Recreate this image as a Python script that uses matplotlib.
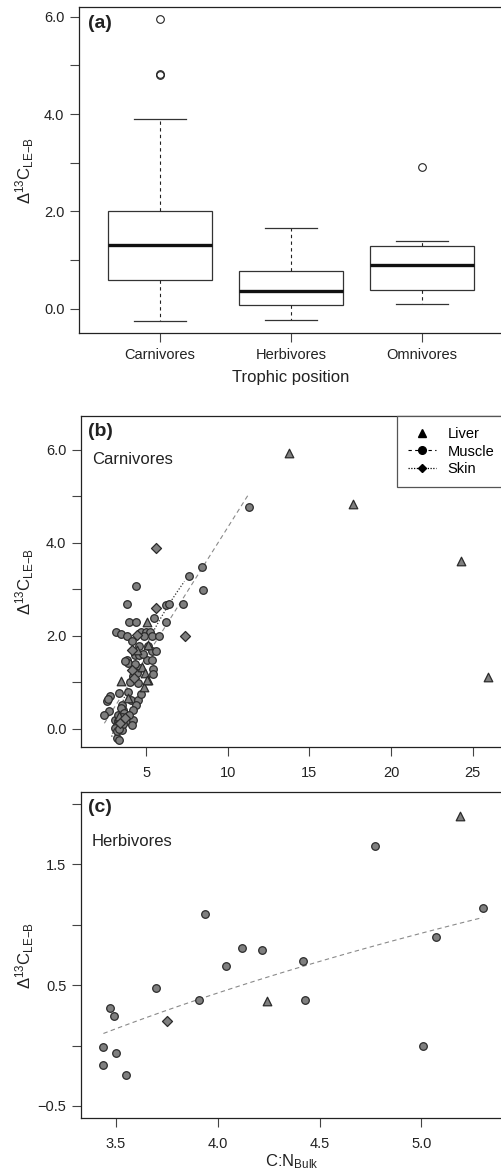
import numpy as np
import matplotlib
matplotlib.use('Agg')
import matplotlib.pyplot as plt
from matplotlib.lines import Line2D

plt.rcParams['font.family'] = ['Liberation Sans', 'DejaVu Sans']
plt.rcParams['mathtext.fontset'] = 'custom'
plt.rcParams['mathtext.rm'] = 'Liberation Sans'
plt.rcParams['mathtext.it'] = 'Liberation Sans:italic'

# (a) box plot summaries
groups = ['Carnivores', 'Herbivores', 'Omnivores']
box_q1 = [0.58, 0.08, 0.39]
box_med = [1.30, 0.37, 0.89]
box_q3 = [2.00, 0.78, 1.28]
whisk_lo = [-0.25, -0.24, 0.09]
whisk_hi = [3.90, 1.65, 1.40]
outliers = [[5.96, 4.80, 4.83], [], [2.91]]

# (b) carnivores, C:N bulk vs delta 13C
carn_liver_x = [13.73, 17.64, 24.27, 25.94, 5.06, 5.10, 4.47, 4.73, 4.96, 5.14, 4.88, 3.47, 3.92, 3.37, 5.04]
carn_liver_y = [5.94, 4.84, 3.61, 1.11, 2.30, 1.81, 1.70, 1.33, 1.20, 1.05, 0.91, 1.02, 0.66, 0.28, 1.05]
carn_skin_x = [5.61, 5.63, 7.41, 4.43, 4.16, 4.12, 4.29, 3.41, 3.72]
carn_skin_y = [3.90, 2.60, 2.00, 2.02, 1.70, 1.27, 1.09, 0.12, 0.23]
carn_muscle_x = [11.32, 4.39, 7.61, 8.40, 8.51, 3.82, 6.22, 6.43, 7.28, 5.49, 6.20, 3.98, 4.39,
                 3.14, 3.49, 3.82, 4.16, 4.67, 5.00, 5.24, 4.88, 5.35, 5.82, 4.59, 5.14, 5.35,
                 5.61, 3.82, 3.92, 4.33, 4.59, 5.04, 5.35, 4.63, 5.41, 5.41, 4.18, 4.53, 3.92,
                 3.35, 4.06, 4.53, 2.80, 2.63, 2.72, 2.43, 3.51, 3.57, 4.39, 4.22, 3.10, 3.31,
                 3.78, 4.22, 4.12, 3.21, 3.41, 3.10, 3.51, 3.21, 3.37, 3.30, 3.45, 3.60, 3.25,
                 3.65, 4.00, 4.30, 3.70, 4.80, 4.45, 3.95, 4.70, 2.65, 3.35, 3.50]
carn_muscle_y = [4.78, 3.08, 3.28, 3.48, 2.98, 2.69, 2.66, 2.69, 2.69, 2.39, 2.29, 2.29, 2.29,
                 2.09, 2.03, 2.00, 1.90, 2.09, 2.09, 2.09, 1.99, 1.99, 1.99, 1.78, 1.78, 1.68,
                 1.68, 1.48, 1.41, 1.59, 1.59, 1.48, 1.48, 1.30, 1.28, 1.18, 1.13, 0.98, 0.80,
                 0.78, 0.62, 0.62, 0.70, 0.59, 0.39, 0.29, 0.52, 0.41, 0.52, 0.41, 0.19, 0.16,
                 0.16, 0.19, 0.09, 0.09, 0.05, 0.01, -0.02, -0.20, -0.24, 0.30, 0.45, 0.10, -0.05,
                 0.35, 1.00, 1.40, 1.45, 1.60, 1.20, 0.30, 0.75, 0.65, 0.00, 0.25]
# fitted lines as drawn (muscle linear, skin logarithmic)
carn_muscle_fit = (-1.247, 0.558, 2.45, 11.32)   # intercept, slope, x from, x to
carn_skin_fit = (-3.99, 3.59, 2.90, 7.35)        # a + b*ln(x)

# (c) herbivores
herb_liver_x = [4.24, 5.19]
herb_liver_y = [0.365, 1.90]
herb_skin_x = [3.75]
herb_skin_y = [0.20]
herb_muscle_x = [3.44, 3.44, 3.47, 3.49, 3.50, 3.55, 3.70, 3.91, 3.94, 4.04, 4.12, 4.22,
                 4.42, 4.43, 5.01, 5.07, 5.30, 4.77]
herb_muscle_y = [-0.01, -0.16, 0.31, 0.245, -0.06, -0.24, 0.48, 0.375, 1.09, 0.655, 0.81, 0.79,
                 0.70, 0.375, 0.0, 0.90, 1.14, 1.65]
herb_muscle_fit = (-2.644, 2.221, 3.44, 5.30)    # a + b*ln(x)

fill = '#7f7f7f'
edge = '#2b2b2b'
txt = '#222222'
ylab = r'$\Delta^{13}\mathrm{C}_{\mathrm{LE{-}B}}$'


def style(ax):
    for s in ax.spines.values():
        s.set_color('#222222')
        s.set_linewidth(0.9)
    ax.tick_params(which='both', direction='out', length=6.5, width=0.8,
                   color='#444444', labelcolor=txt, labelsize=10.5, pad=4)


fig = plt.figure(figsize=(5.02, 11.74), dpi=100)

# ---- (a)
ax1 = fig.add_axes([79 / 502, 1 - 333 / 1174, 424 / 502, 326 / 1174])
stats = []
for i in range(3):
    stats.append(dict(med=box_med[i], q1=box_q1[i], q3=box_q3[i], whislo=whisk_lo[i],
                      whishi=whisk_hi[i], fliers=outliers[i], label=groups[i]))
ax1.bxp(stats, positions=[1, 2, 3], widths=0.8, patch_artist=True,
        boxprops=dict(facecolor='white', edgecolor='#333333', linewidth=0.9),
        medianprops=dict(color='#111111', linewidth=2.4),
        whiskerprops=dict(color='#222222', linewidth=0.8, linestyle=(0, (3, 3))),
        capprops=dict(color='#333333', linewidth=0.9),
        flierprops=dict(marker='o', markerfacecolor='none', markeredgecolor='#222222',
                        markersize=5.5, markeredgewidth=0.8))
ax1.set_xlim(0.38, 3.62)
ax1.set_ylim(-0.5, 6.2)
ax1.set_yticks([0, 2, 4, 6])
ax1.set_yticklabels(['0.0', '2.0', '4.0', '6.0'])
ax1.set_yticks([1, 3, 5], minor=True)
ax1.set_xticks([1, 2, 3])
ax1.set_xticklabels(groups)
style(ax1)
ax1.set_xlabel('Trophic position', fontsize=12, color=txt, labelpad=6)
ax1.set_ylabel(ylab, fontsize=12, color=txt)
ax1.yaxis.set_label_coords(-0.101, 0.5)
ax1.text(0.021, 0.948, '(a)', transform=ax1.transAxes, fontsize=14, fontweight='bold',
         ha='left', va='center', color=txt)

# ---- (b)
ax2 = fig.add_axes([81 / 502, 1 - 747 / 1174, 422 / 502, 331 / 1174])
xs = np.linspace(carn_muscle_fit[2], carn_muscle_fit[3], 50)
ax2.plot(xs, carn_muscle_fit[0] + carn_muscle_fit[1] * xs, color='#8a8a8a',
         lw=0.8, linestyle=(0, (4, 3)), zorder=1)
xs = np.linspace(carn_skin_fit[2], carn_skin_fit[3], 50)
ax2.plot(xs, carn_skin_fit[0] + carn_skin_fit[1] * np.log(xs), color='#333333',
         lw=0.9, linestyle=(0, (1, 1.5)), zorder=1)
ax2.scatter(carn_muscle_x, carn_muscle_y, s=30, marker='o', c=fill, edgecolors=edge,
            linewidths=0.9, zorder=2)
ax2.scatter(carn_liver_x, carn_liver_y, s=38, marker='^', c=fill, edgecolors=edge,
            linewidths=0.9, zorder=3)
ax2.scatter(carn_skin_x, carn_skin_y, s=26, marker='D', c=fill, edgecolors=edge,
            linewidths=0.9, zorder=3)
ax2.set_xlim(1.02, 26.85)
ax2.set_ylim(-0.39, 6.73)
ax2.set_xticks([5, 10, 15, 20, 25])
ax2.set_yticks([0, 2, 4, 6])
ax2.set_yticklabels(['0.0', '2.0', '4.0', '6.0'])
ax2.set_yticks([1, 3, 5], minor=True)
style(ax2)
ax2.tick_params(axis='x', pad=7)
ax2.set_ylabel(ylab, fontsize=12, color=txt)
ax2.yaxis.set_label_coords(-0.107, 0.5)
ax2.text(0.017, 0.952, '(b)', transform=ax2.transAxes, fontsize=14, fontweight='bold',
         ha='left', va='center', color=txt)
ax2.text(0.026, 0.870, 'Carnivores', transform=ax2.transAxes, fontsize=12,
         ha='left', va='center', color=txt)
handles = [
    Line2D([], [], marker='^', color='black', linestyle='none', markersize=5.5),
    Line2D([], [], marker='o', color='black', markersize=5.5, linestyle=(0, (3, 3)), lw=0.8),
    Line2D([], [], marker='D', color='black', markersize=4.5, linestyle=(0, (1, 1.2)), lw=0.9),
]
leg = ax2.legend(handles, ['Liver', 'Muscle', 'Skin'], loc='upper left',
                 bbox_to_anchor=(0.749, 1.0), borderaxespad=0, fancybox=False,
                 fontsize=10.5, handlelength=1.9, handletextpad=0.8, labelspacing=0.25,
                 borderpad=0.75, framealpha=1)
leg.get_frame().set_edgecolor('#555555')
leg.get_frame().set_linewidth(0.9)

# ---- (c)
ax3 = fig.add_axes([81 / 502, 1 - 1118 / 1174, 422 / 502, 326 / 1174])
xs = np.linspace(herb_muscle_fit[2], herb_muscle_fit[3], 60)
ax3.plot(xs, herb_muscle_fit[0] + herb_muscle_fit[1] * np.log(xs), color='#8a8a8a',
         lw=0.8, linestyle=(0, (4, 3)), zorder=1)
ax3.scatter(herb_muscle_x, herb_muscle_y, s=30, marker='o', c=fill, edgecolors=edge,
            linewidths=0.9, zorder=2)
ax3.scatter(herb_liver_x, herb_liver_y, s=38, marker='^', c=fill, edgecolors=edge,
            linewidths=0.9, zorder=3)
ax3.scatter(herb_skin_x, herb_skin_y, s=26, marker='D', c=fill, edgecolors=edge,
            linewidths=0.9, zorder=3)
ax3.set_xlim(3.33, 5.40)
ax3.set_ylim(-0.6, 2.1)
ax3.set_xticks([3.5, 4.0, 4.5, 5.0])
ax3.set_xticklabels(['3.5', '4.0', '4.5', '5.0'])
ax3.set_yticks([-0.5, 0.5, 1.5])
ax3.set_yticklabels(['\u22120.5', '0.5', '1.5'])
ax3.set_yticks([0.0, 1.0, 2.0], minor=True)
style(ax3)
ax3.tick_params(axis='x', pad=7)
ax3.set_ylabel(ylab, fontsize=12, color=txt)
ax3.yaxis.set_label_coords(-0.107, 0.5)
ax3.set_xlabel(r'C:N$_{\mathrm{Bulk}}$', fontsize=12, color=txt, labelpad=1)
ax3.text(0.017, 0.951, '(c)', transform=ax3.transAxes, fontsize=14, fontweight='bold',
         ha='left', va='center', color=txt)
ax3.text(0.024, 0.847, 'Herbivores', transform=ax3.transAxes, fontsize=12,
         ha='left', va='center', color=txt)

fig.savefig('out.png', dpi=100)
